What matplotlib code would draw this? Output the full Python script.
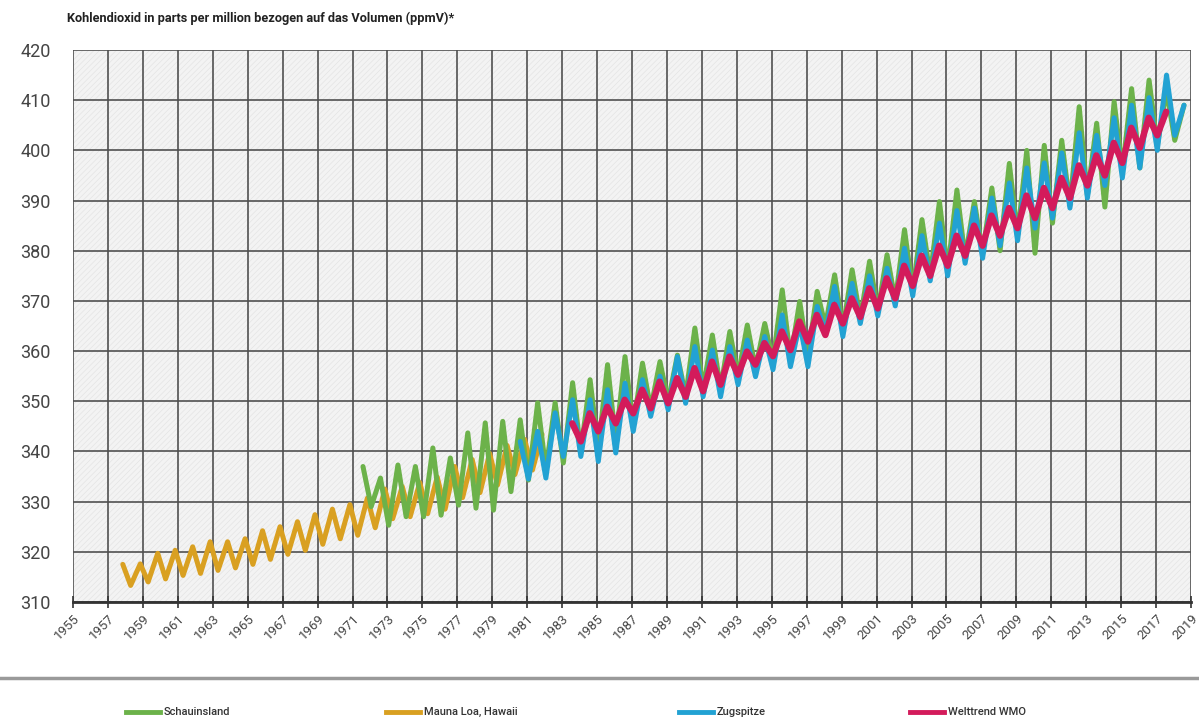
import numpy as np
import matplotlib.pyplot as plt
from matplotlib.patches import Rectangle

plt.rcParams['hatch.linewidth'] = 0.5

# --- Daten: pro Jahr Minimum (Spaetsommer) und Maximum (Fruehjahr), ppmV ---
ml_years = list(range(1957, 1982))
ml_trough = [np.nan, 313.3, 314.0, 314.6, 315.3, 315.7, 316.3, 316.8, 317.5, 318.5,
             319.5, 320.3, 321.5, 322.6, 323.3, 324.8, 326.6, 327.0, 327.6, 328.5,
             330.8, 331.8, 333.3, 335.4, 336.3]
ml_peak = [317.5, 317.6, 319.7, 320.3, 321.0, 322.0, 322.0, 322.6, 324.2, 325.0,
           326.0, 327.4, 328.5, 329.4, 330.7, 332.5, 333.0, 333.8, 334.9, 337.0,
           338.4, 339.6, 341.2, 342.4, 343.4]

sch_years = list(range(1971, 2019))
sch_trough = [np.nan, 329.0, 325.3, 327.0, 327.0, 327.3, 329.3, 328.7, 328.3, 332.0,
              334.3, 336.3, 337.7, 340.0, 340.5, 342.0, 345.0, 348.5, 350.0, 351.0,
              352.5, 352.5, 355.0, 356.5, 358.0, 358.5, 359.0, 365.0, 364.5, 366.5,
              368.0, 370.0, 372.0, 375.0, 376.0, 378.5, 379.5, 380.0, 383.0, 379.5,
              385.5, 389.0, 391.0, 388.7, 396.0, 396.5, 401.0, 402.0]
sch_peak = [337.0, 334.7, 337.3, 337.0, 340.7, 338.7, 343.7, 345.7, 346.0, 346.3,
            349.7, 349.7, 353.7, 354.3, 357.3, 358.9, 357.6, 357.9, 359.2, 364.6,
            363.2, 363.9, 365.2, 365.5, 372.2, 369.9, 371.9, 375.2, 376.2, 377.9,
            379.2, 384.2, 386.2, 389.8, 392.1, 389.8, 392.5, 397.4, 400.0, 401.0,
            402.0, 408.7, 405.4, 409.7, 412.3, 414.0, 412.0, 409.0]

zug_years = list(range(1980, 2019))
zug_trough = [np.nan, 334.5, 334.7, 339.0, 339.0, 338.0, 339.7, 344.0, 347.0, 348.3,
              349.6, 350.9, 350.9, 353.3, 354.9, 356.3, 356.9, 356.9, 363.6, 362.9,
              365.5, 367.0, 369.0, 371.0, 374.0, 375.0, 377.5, 378.5, 381.0, 382.0,
              384.5, 386.5, 388.5, 390.5, 393.0, 394.5, 396.5, 400.0, 403.0]
zug_peak = [342.0, 344.0, 347.7, 350.3, 350.3, 352.3, 353.6, 354.3, 355.0, 358.9,
            360.9, 360.2, 360.9, 362.2, 362.9, 367.2, 365.5, 368.9, 372.9, 373.5,
            375.0, 376.5, 380.5, 383.0, 385.5, 388.0, 388.5, 390.5, 393.5, 396.5,
            397.5, 399.5, 403.5, 403.0, 406.5, 409.0, 410.5, 415.0, 409.0]

wmo_years = list(range(1983, 2018))
wmo_trough = [np.nan, 342.0, 344.0, 345.6, 347.6, 348.6, 349.6, 350.9, 352.0, 353.3,
              355.3, 357.3, 359.0, 360.2, 361.9, 363.2, 365.5, 366.8, 368.5, 370.5,
              373.0, 375.0, 377.0, 379.0, 381.0, 383.0, 384.5, 386.5, 388.5, 390.5,
              393.0, 395.0, 397.5, 400.5, 403.0]
wmo_peak = [345.6, 347.6, 348.9, 350.3, 352.3, 353.9, 354.6, 356.6, 357.9, 358.9,
            359.9, 361.6, 363.9, 365.9, 367.2, 369.2, 370.5, 372.5, 374.5, 377.0,
            379.0, 381.0, 383.0, 385.0, 387.0, 388.5, 391.0, 392.5, 394.5, 397.0,
            399.0, 401.5, 404.5, 406.5, 407.7]

legend_labels = ["Schauinsland", "Mauna Loa, Hawaii", "Zugspitze", "Welttrend WMO"]
colors = ["#6cb24a", "#d9a021", "#22a2d3", "#d31b5b"]


def saisonkurve(years, troughs, peaks, t_min, t_max):
    # Minimum und Maximum eines Jahres abwechselnd aneinanderreihen
    xs, ys = [], []
    for yr, lo, hi in zip(years, troughs, peaks):
        if not np.isnan(lo):
            xs.append(yr + t_min)
            ys.append(lo)
        if not np.isnan(hi):
            xs.append(yr + t_max)
            ys.append(hi)
    return xs, ys


fig = plt.figure(figsize=(11.99, 7.18), dpi=100)
ax = fig.add_axes([73 / 1199, 1 - 602 / 718, 1118 / 1199, 552 / 718])

# fein schraffierter, hellgrauer Hintergrund
ax.set_facecolor("#f3f3f3")
ax.add_patch(Rectangle((0, 0), 1, 1, transform=ax.transAxes, facecolor="none",
                       edgecolor="#e4e4e4", hatch="//////", linewidth=0, zorder=0))

linie = dict(solid_joinstyle="round", solid_capstyle="round")
x, y = saisonkurve(ml_years, ml_trough, ml_peak, 0.30, 0.85)
ax.plot(x, y, color=colors[1], lw=3.6, zorder=3, **linie)
x, y = saisonkurve(sch_years, sch_trough, sch_peak, 0.07, 0.60)
ax.plot(x, y, color=colors[0], lw=3.6, zorder=4, **linie)
x, y = saisonkurve(zug_years, zug_trough, zug_peak, 0.07, 0.60)
ax.plot(x, y, color=colors[2], lw=3.6, zorder=5, **linie)
x, y = saisonkurve(wmo_years, wmo_trough, wmo_peak, 0.07, 0.58)
ax.plot(x, y, color=colors[3], lw=4.6, zorder=6, **linie)

ax.set_xlim(1955, 2019)
ax.set_ylim(310, 420)
ax.set_xticks(range(1955, 2020, 2))
ax.set_yticks(range(310, 421, 10))
ax.grid(True, color="#505050", linewidth=1.2, zorder=1)
ax.set_axisbelow(True)
for side in ["top", "right", "left"]:
    ax.spines[side].set_visible(False)
ax.spines["bottom"].set_color("#333333")
ax.spines["bottom"].set_linewidth(2.0)

ax.tick_params(axis="x", direction="inout", length=8, width=1.2, color="#333333",
               labelsize=9.5, labelcolor="#444444", pad=3)
ax.tick_params(axis="y", length=0, labelsize=13, labelcolor="#444444", pad=16)
for lbl in ax.get_xticklabels():
    lbl.set_rotation(45)
    lbl.set_ha("right")
    lbl.set_va("top")
    lbl.set_rotation_mode("anchor")
    lbl.set_fontfamily("Roboto")
for lbl in ax.get_yticklabels():
    lbl.set_fontfamily("Roboto")

fig.text(67 / 1199, 1 - 18 / 718,
         "Kohlendioxid in parts per million bezogen auf das Volumen (ppmV)*",
         fontsize=9.2, fontweight="bold", family="Roboto", color="#222222",
         ha="left", va="center")

# Trennlinie und Legende unten
fig.add_artist(plt.Line2D([0, 1], [1 - 678 / 718, 1 - 678 / 718],
                          transform=fig.transFigure, color="#9a9a9a", lw=2.5))
leg_x = [126, 386, 679, 910]
for xpos, lab, col in zip(leg_x, legend_labels, colors):
    yy = 1 - 712 / 718
    fig.add_artist(plt.Line2D([xpos / 1199, (xpos + 34) / 1199], [yy, yy],
                              transform=fig.transFigure, color=col, lw=3.5))
    fig.text((xpos + 38) / 1199, yy, lab, fontsize=8, fontweight="medium",
             family="Roboto", color="#333333", ha="left", va="center")

fig.savefig("out.png", dpi=100)
